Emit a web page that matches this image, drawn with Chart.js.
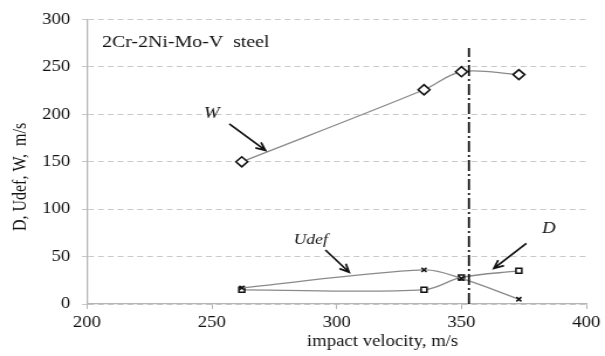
<!DOCTYPE html>
<html>
<head>
<meta charset="utf-8">
<script src="https://cdn.jsdelivr.net/npm/chart.js@4.4.1/dist/chart.umd.min.js"></script>
<style>
  html, body { margin: 0; padding: 0; background: #fff; overflow: hidden; }
  /* figure is printed slightly wide, so the chart is laid out narrower and stretched */
  #wrap { width: 517px; height: 356px; transform: scaleX(1.1702); transform-origin: 0 0; }
</style>
</head>
<body>
<div id="wrap"><canvas id="chart"></canvas></div>
<script>
// impact velocity, m/s
const velocity = [262, 335, 350, 373];
// speeds, m/s
const wSpeed = [150, 226, 245, 242];
const uDef = [17, 36, 27, 5];
const dSpeed = [15, 15, 28, 35];

// critical velocity marker (dash-dot vertical)
const critX = [353, 353];
const critY = [0, 270];

const xTicks = [200, 250, 300, 350, 400];
const yTicks = [0, 50, 100, 150, 200, 250, 300];

// curve labels and their arrows, in axis units
const curveLabels = [
  { text: 'W', x: 250, y: 201, size: 16 },
  { text: 'Udef', x: 289.6, y: 67, size: 15 },
  { text: 'D', x: 385, y: 79, size: 16 },
];
const arrows = [
  { from: [257, 190], to: [271.5, 162] },
  { from: [295.5, 57], to: [305, 33.5] },
  { from: [376, 64], to: [363, 37.5] },
];

const SERIF = "'Liberation Serif', 'Times New Roman', serif";
Chart.defaults.font.family = SERIF;

const pts = (xs, ys) => xs.map((x, i) => ({ x, y: ys[i] }));

function drawArrow(ctx, x1, y1, x2, y2) {
  const a = Math.atan2(y2 - y1, x2 - x1), h = 9, s = 0.42;
  ctx.beginPath();
  ctx.moveTo(x1, y1);
  ctx.lineTo(x2, y2);
  ctx.moveTo(x2 - h * Math.cos(a - s), y2 - h * Math.sin(a - s));
  ctx.lineTo(x2, y2);
  ctx.lineTo(x2 - h * Math.cos(a + s), y2 - h * Math.sin(a + s));
  ctx.stroke();
}

const notesPlugin = {
  id: 'notes',
  afterDraw(chart) {
    const { ctx, scales: { x, y } } = chart;
    ctx.save();
    ctx.fillStyle = '#111';
    ctx.strokeStyle = '#111';
    ctx.lineWidth = 1.7;
    ctx.textBaseline = 'middle';

    ctx.font = '17px ' + SERIF;
    ctx.textAlign = 'left';
    ctx.fillText('2Cr-2Ni-Mo-V  steel', x.getPixelForValue(206), y.getPixelForValue(276));

    ctx.textAlign = 'center';
    curveLabels.forEach(l => {
      ctx.font = 'italic ' + l.size + 'px ' + SERIF;
      ctx.fillText(l.text, x.getPixelForValue(l.x), y.getPixelForValue(l.y));
    });
    arrows.forEach(a => {
      drawArrow(ctx,
        x.getPixelForValue(a.from[0]), y.getPixelForValue(a.from[1]),
        x.getPixelForValue(a.to[0]), y.getPixelForValue(a.to[1]));
    });

    // axis titles
    ctx.font = '16px ' + SERIF;
    ctx.fillText('impact velocity, m/s', x.getPixelForValue(318.4), chart.height - 14);
    ctx.translate(17.5, y.getPixelForValue(134));
    ctx.rotate(-Math.PI / 2);
    ctx.fillText('D, Udef, W,  m/s', 0, 0);
    ctx.restore();
  }
};

new Chart(document.getElementById('chart'), {
  type: 'line',
  data: {
    datasets: [
      {
        data: pts(critX, critY),
        borderColor: '#111',
        borderWidth: 1.8,
        borderDash: [11, 3, 2, 3],
        pointRadius: 0,
        tension: 0
      },
      {
        label: 'W',
        data: pts(velocity, wSpeed),
        borderColor: '#8a8a8a',
        borderWidth: 1.3,
        tension: 0.35,
        pointStyle: 'rectRot',
        pointRadius: 5,
        pointBorderWidth: 1.6,
        pointBorderColor: '#111',
        pointBackgroundColor: '#fff'
      },
      {
        label: 'Udef',
        data: pts(velocity, uDef),
        borderColor: '#8a8a8a',
        borderWidth: 1.3,
        tension: 0.35,
        pointStyle: 'crossRot',
        pointRadius: 3,
        pointBorderWidth: 1.5,
        pointBorderColor: '#111'
      },
      {
        label: 'D',
        data: pts(velocity, dSpeed),
        borderColor: '#8a8a8a',
        borderWidth: 1.3,
        tension: 0.35,
        pointStyle: 'rect',
        pointRadius: 3.5,
        pointBorderWidth: 1.5,
        pointBorderColor: '#111',
        pointBackgroundColor: '#fff'
      }
    ]
  },
  options: {
    responsive: true,
    maintainAspectRatio: false,
    animation: false,
    layout: { padding: { top: 19, right: 15.4, bottom: 0, left: 0 } },
    plugins: {
      legend: { display: false },
      tooltip: { enabled: false }
    },
    scales: {
      x: {
        type: 'linear',
        min: 200,
        max: 400,
        afterBuildTicks: s => { s.ticks = xTicks.map(v => ({ value: v })); },
        afterFit: s => { s.height = 52; },
        grid: { drawOnChartArea: false, drawTicks: true, tickLength: 5, tickColor: '#b5b5b5' },
        border: { color: '#b5b5b5', width: 1.3 },
        ticks: { padding: 4, color: '#111', font: { size: 16 } }
      },
      y: {
        type: 'linear',
        min: 0,
        max: 300,
        afterBuildTicks: s => { s.ticks = yTicks.map(v => ({ value: v })); },
        afterFit: s => { s.width = 74.35; },
        grid: { color: '#c9c9c9', lineWidth: 1, tickLength: 4.3, tickColor: '#c9c9c9' },
        border: { color: '#b5b5b5', width: 1.3, dash: [5, 3.4] },
        ticks: { padding: 10, color: '#111', font: { size: 16 } }
      }
    }
  },
  plugins: [notesPlugin]
});
</script>
</body>
</html>
